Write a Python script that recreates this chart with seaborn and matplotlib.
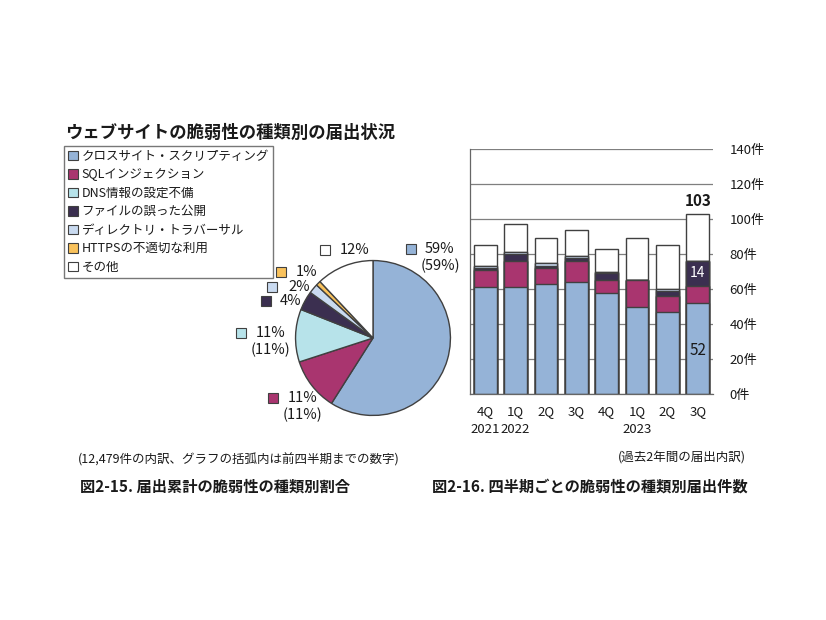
import matplotlib
matplotlib.use("Agg")
import matplotlib.pyplot as plt
from matplotlib.patches import Patch, Rectangle
import numpy as np
import pandas as pd
import seaborn as sns

W, H = 826, 620

# ---- data ----
CATEGORIES = ["クロスサイト・スクリプティング", "SQLインジェクション", "DNS情報の設定不備",
              "ファイルの誤った公開", "ディレクトリ・トラバーサル", "HTTPSの不適切な利用", "その他"]
COLORS = ["#95B3D7", "#A9356F", "#B7E3EA", "#3B2F50", "#C9DAF0", "#F9C25C", "#FFFFFF"]

PIE_SHARE = [59, 11, 11, 4, 2, 1, 12]
PIE_LABELS = ["59%\n(59%)", "11%\n(11%)", "11%\n(11%)", "4%", "2%", "1%", "12%"]

QUARTERS = ["4Q\n2021", "1Q\n2022", "2Q", "3Q", "4Q", "1Q\n2023", "2Q", "3Q"]
XSS   = [61, 61, 63, 64, 58, 50, 47, 52]
SQLI  = [10, 15,  9, 12,  7, 15,  9, 10]
DNS   = [ 0,  0,  0,  0,  0,  0,  0,  0]
FILE  = [ 1,  4,  1,  2,  4,  0,  3, 14]
TRAV  = [ 1,  1,  2,  1,  1,  0,  1,  0]
HTTPS = [ 0,  0,  0,  0,  0,  0,  0,  0]
OTHER = [12, 16, 14, 15, 13, 24, 25, 27]
Y_TICKS = [0, 20, 40, 60, 80, 100, 120, 140]

sns.set_theme(style="white")
plt.rcParams["font.family"] = ["Noto Sans CJK JP", "DejaVu Sans"]
TXT = "#1a1a1a"
EDGE = "#404040"


def fx(x):
    return x / W


def fy(y):
    return 1 - y / H


fig = plt.figure(figsize=(W / 100, H / 100), dpi=100)
fig.patch.set_facecolor("white")

# ---- title and legend ----
fig.text(fx(65), fy(133), "ウェブサイトの脆弱性の種類別の届出状況", fontsize=12.5,
         fontweight="bold", color=TXT, va="center", ha="left")

handles = [Patch(facecolor=c, edgecolor=EDGE, linewidth=0.8) for c in COLORS]
leg = fig.legend(handles, CATEGORIES, loc="upper left", bbox_to_anchor=(fx(64), fy(146)),
                 fontsize=9, frameon=True, fancybox=False, edgecolor="#555555",
                 handlelength=0.8, handleheight=0.8, handletextpad=0.3,
                 labelspacing=0.44, borderpad=0.3, borderaxespad=0)
leg.get_frame().set_linewidth(1.0)
for t in leg.get_texts():
    t.set_color(TXT)

# ---- pie ----
cx, cy, r = 373, 338, 79
ax_pie = fig.add_axes([fx(cx - r), fy(cy + r), 2 * r / W, 2 * r / H])
ax_pie.pie(PIE_SHARE, colors=COLORS, startangle=90, counterclock=False, radius=1,
           wedgeprops=dict(edgecolor=EDGE, linewidth=1.0))
ax_pie.set_xlim(-1.02, 1.02)
ax_pie.set_ylim(-1.02, 1.02)
ax_pie.set_aspect("auto")
ax_pie.axis("off")

# label positions (pixels): marker x, marker y, text x
label_pos = [(411, 249, 425), (273, 398, 288), (241, 333, 256),
             (266, 301, 280), (272, 287, 288), (281, 272, 296), (325, 250, 340)]
for (mx, my, tx), lab, col in zip(label_pos, PIE_LABELS, COLORS):
    fig.add_artist(Rectangle((fx(mx - 5), fy(my + 5)), 10 / W, 10 / H, transform=fig.transFigure,
                             facecolor=col, edgecolor=EDGE, linewidth=0.8))
    lines = lab.split("\n")
    fig.text(fx(tx), fy(my), lines[0], fontsize=10.5, color=TXT, va="center", ha="left")
    if len(lines) > 1:
        fig.text(fx(tx + 15), fy(my + 17), lines[1], fontsize=10.5, color=TXT,
                 va="center", ha="center")

# ---- stacked bars ----
ax = fig.add_axes([fx(470), fy(394), (713 - 470) / W, (394 - 149) / H])
layers = [XSS, SQLI, DNS, FILE, TRAV, HTTPS, OTHER]
cum = np.cumsum(np.array(layers), axis=0)
idx = list(range(len(QUARTERS)))
for k in range(len(layers) - 1, -1, -1):
    df = pd.DataFrame({"q": idx, "v": cum[k]})
    sns.barplot(data=df, x="q", y="v", ax=ax, color=COLORS[k], saturation=1,
                width=0.75, edgecolor=EDGE, linewidth=1.0, errorbar=None)

ax.set_xlim(-0.5, 7.5)
ax.set_ylim(0, 140)
ax.set_yticks(Y_TICKS)
ax.set_yticklabels([f"{v}件" for v in Y_TICKS], fontsize=9.5, color=TXT)
ax.yaxis.tick_right()
ax.grid(axis="y", color="#7f7f7f", linewidth=0.9)
ax.set_axisbelow(True)
ax.set_xticks(idx)
ax.set_xticklabels(QUARTERS, fontsize=9.5, color=TXT, linespacing=1.45)
ax.set_xticks(np.arange(-0.5, 8, 1), minor=True)
ax.tick_params(axis="x", which="major", length=0, pad=8)
ax.tick_params(axis="x", which="minor", length=5, width=0.9, color="#666666", direction="out")
ax.tick_params(axis="y", length=0, pad=12)
ax.set_xlabel("")
ax.set_ylabel("")
for s in ["top", "right"]:
    ax.spines[s].set_visible(False)
for s in ["left", "bottom"]:
    ax.spines[s].set_color("#666666")
    ax.spines[s].set_linewidth(0.9)

last = len(QUARTERS) - 1
ax.text(last, cum[-1][last] + 3, str(cum[-1][last]), ha="center", va="bottom",
        fontsize=11, fontweight="bold", color=TXT)
ax.text(last, cum[2][last] + FILE[last] / 2, str(FILE[last]), ha="center", va="center",
        fontsize=10, color="white")
ax.text(last, 25, str(XSS[last]), ha="center", va="center", fontsize=11, color=TXT)

# ---- captions ----
fig.text(fx(78), fy(460), "(12,479件の内訳、グラフの括弧内は前四半期までの数字)", fontsize=9,
         color=TXT, va="center", ha="left")
fig.text(fx(746), fy(458), "(過去2年間の届出内訳)", fontsize=9, color=TXT, va="center", ha="right")
fig.text(fx(80), fy(487), "図2-15. 届出累計の脆弱性の種類別割合", fontsize=11,
         fontweight="bold", color=TXT, va="center", ha="left")
fig.text(fx(432), fy(487), "図2-16. 四半期ごとの脆弱性の種類別届出件数", fontsize=11,
         fontweight="bold", color=TXT, va="center", ha="left")

fig.savefig("out.png", dpi=100, facecolor="white")
